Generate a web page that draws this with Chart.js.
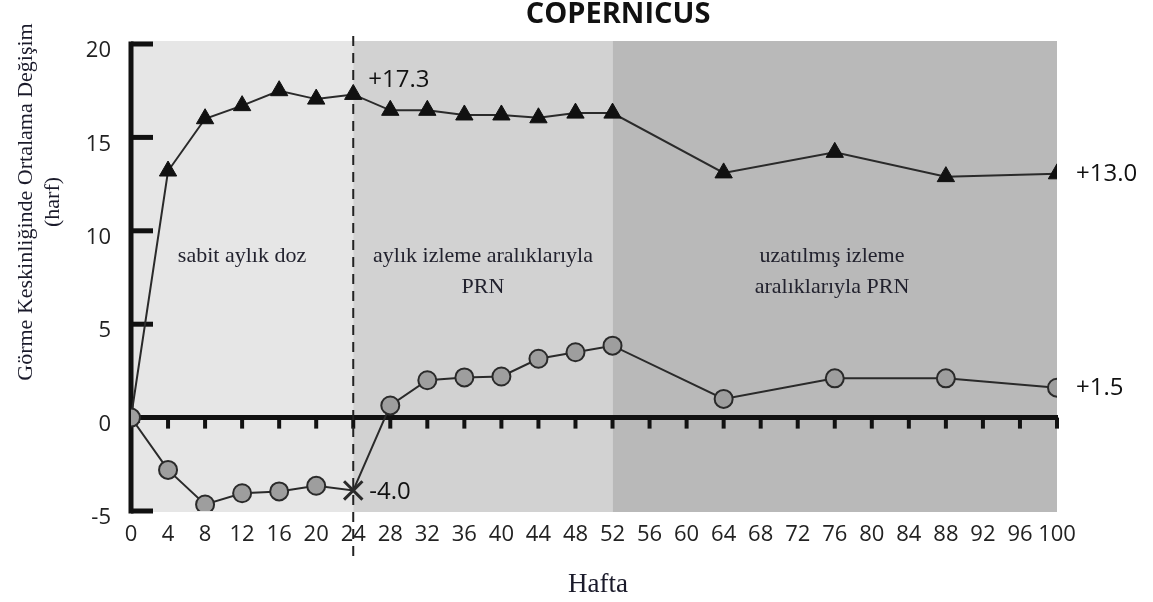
<!DOCTYPE html>
<html>
<head>
<meta charset="utf-8">
<script src="https://cdn.jsdelivr.net/npm/chart.js@4.4.1/dist/chart.umd.min.js"></script>
<style>
  html, body { margin: 0; padding: 0; background: #fff; }
  #wrap { width: 1153px; height: 602px; }
</style>
</head>
<body>
<div id="wrap"><canvas id="chart"></canvas></div>
<script>
// weeks and mean change in visual acuity (letters)
const weeksTri = [0, 4, 8, 12, 16, 20, 24, 28, 32, 36, 40, 44, 48, 52, 64, 76, 88, 100];
const triangleValues = [0, 13.2, 16.0, 16.7, 17.5, 17.05, 17.3, 16.45, 16.45, 16.2, 16.2, 16.05, 16.3, 16.3, 13.1, 14.2, 12.9, 13.05];

const weeksCirc = [0, 4, 8, 12, 16, 20, 24, 28, 32, 36, 40, 44, 48, 52, 64, 76, 88, 100];
const circleValues = [0, -2.8, -4.65, -4.05, -3.95, -3.65, -3.9, 0.65, 2.0, 2.15, 2.2, 3.15, 3.5, 3.85, 1.0, 2.1, 2.1, 1.6];

const xTicks = [0, 4, 8, 12, 16, 20, 24, 28, 32, 36, 40, 44, 48, 52, 56, 60, 64, 68, 72, 76, 80, 84, 88, 92, 96, 100];
const yTicks = [-5, 0, 5, 10, 15, 20];

// treatment phases: start week, end week, colour
const phaseStart = [0, 24, 52];
const phaseEnd = [24, 52, 100];
const phaseColors = ['#e6e6e6', '#d2d2d2', '#b9b9b9'];
const phaseLabels = [['sabit aylık doz'], ['aylık izleme aralıklarıyla', 'PRN'], ['uzatılmış izleme', 'aralıklarıyla PRN']];

const sansFont = '"Open Sans", "DejaVu Sans", sans-serif';
const serifFont = '"Liberation Serif", "DejaVu Serif", serif';

const decorations = {
    id: 'decorations',
    beforeDatasetsDraw(chart) {
        const ctx = chart.ctx;
        const x = chart.scales.x;
        const y = chart.scales.y;
        const top = y.getPixelForValue(20) - 3;
        const bottom = y.getPixelForValue(-5) + 1;

        ctx.save();
        for (let i = 0; i < phaseStart.length; i++) {
            const x0 = x.getPixelForValue(phaseStart[i]);
            const x1 = x.getPixelForValue(phaseEnd[i]);
            ctx.fillStyle = phaseColors[i];
            ctx.fillRect(x0, top, x1 - x0, bottom - top);
        }

        // y axis with inward ticks
        const ax = x.getPixelForValue(0);
        ctx.strokeStyle = '#111';
        ctx.lineWidth = 5;
        ctx.beginPath();
        ctx.moveTo(ax, y.getPixelForValue(20) - 2.5);
        ctx.lineTo(ax, y.getPixelForValue(-5) + 2.5);
        ctx.stroke();
        yTicks.forEach(v => {
            if (v === 0) return;
            const py = y.getPixelForValue(v);
            ctx.beginPath();
            ctx.moveTo(ax, py);
            ctx.lineTo(ax + 22, py);
            ctx.stroke();
        });

        // zero line with downward ticks
        const zy = y.getPixelForValue(0);
        ctx.beginPath();
        ctx.moveTo(ax, zy);
        ctx.lineTo(x.getPixelForValue(100) + 1, zy);
        ctx.stroke();
        ctx.lineWidth = 4;
        xTicks.forEach(v => {
            if (v === 0) return;
            const px = x.getPixelForValue(v);
            ctx.beginPath();
            ctx.moveTo(px, zy);
            ctx.lineTo(px, zy + 11);
            ctx.stroke();
        });

        // dashed line at week 24
        const dx = x.getPixelForValue(24);
        ctx.strokeStyle = '#222';
        ctx.lineWidth = 2;
        ctx.setLineDash([10, 7]);
        ctx.beginPath();
        ctx.moveTo(dx, 36);
        ctx.lineTo(dx, 562);
        ctx.stroke();
        ctx.restore();
    },
    afterDraw(chart) {
        const ctx = chart.ctx;
        const x = chart.scales.x;
        const y = chart.scales.y;
        ctx.save();

        // title
        ctx.fillStyle = '#111';
        ctx.textAlign = 'center';
        ctx.textBaseline = 'middle';
        ctx.font = 'bold 29px ' + sansFont;
        ctx.fillText('COPERNICUS', 618, 15);

        // phase labels
        ctx.font = '22px ' + serifFont;
        ctx.fillStyle = '#22222e';
        const phaseCenters = [242, 483, 832];
        phaseLabels.forEach((lines, i) => {
            lines.forEach((t, j) => ctx.fillText(t, phaseCenters[i], 256 + j * 31));
        });

        // end values
        ctx.font = '24px ' + sansFont;
        ctx.fillStyle = '#111';
        ctx.textAlign = 'left';
        ctx.fillText('+17.3', x.getPixelForValue(24) + 15, 80);
        ctx.fillText('+13.0', x.getPixelForValue(100) + 19, y.getPixelForValue(13.05));
        ctx.fillText('+1.5', x.getPixelForValue(100) + 19, y.getPixelForValue(1.55));
        ctx.fillText('-4.0', x.getPixelForValue(24) + 16, y.getPixelForValue(-4.0));

        // axis titles
        ctx.textAlign = 'center';
        ctx.fillStyle = '#1a1a2a';
        ctx.font = '27px ' + serifFont;
        ctx.fillText('Hafta', 598, 585);
        ctx.font = '22px ' + serifFont;
        ctx.translate(26, 202);
        ctx.rotate(-Math.PI / 2);
        ctx.fillText('Görme Keskinliğinde Ortalama Değişim', 0, 0);
        ctx.fillText('(harf)', 0, 27);
        ctx.restore();
    }
};

const triData = weeksTri.map((w, i) => ({ x: w, y: triangleValues[i] }));
const circData = weeksCirc.map((w, i) => ({ x: w, y: circleValues[i] }));

new Chart(document.getElementById('chart'), {
    type: 'line',
    data: {
        datasets: [
            {
                label: 'circles',
                data: circData,
                borderColor: '#2a2a2a',
                borderWidth: 2,
                backgroundColor: '#9e9e9e',
                pointBackgroundColor: weeksCirc.map(w => w === 24 ? 'rgba(0,0,0,0)' : '#9e9e9e'),
                pointBorderColor: '#2a2a2a',
                pointBorderWidth: weeksCirc.map(w => w === 24 ? 3 : 2),
                pointStyle: weeksCirc.map(w => w === 24 ? 'crossRot' : 'circle'),
                pointRadius: weeksCirc.map(w => w === 24 ? 13 : 9),
                tension: 0
            },
            {
                label: 'triangles',
                data: triData,
                borderColor: '#2a2a2a',
                borderWidth: 2,
                backgroundColor: '#111',
                pointBackgroundColor: '#111',
                pointBorderColor: '#111',
                pointBorderWidth: 1,
                pointStyle: 'triangle',
                pointRadius: 10,
                tension: 0
            }
        ]
    },
    options: {
        responsive: true,
        maintainAspectRatio: false,
        animation: false,
        layout: { padding: { left: 60, right: 96, top: 44, bottom: 51 } },
        plugins: {
            legend: { display: false },
            tooltip: { enabled: false },
            title: { display: false }
        },
        scales: {
            x: {
                type: 'linear',
                min: 0,
                max: 100,
                afterBuildTicks: scale => { scale.ticks = xTicks.map(v => ({ value: v })); },
                afterFit: scale => { scale.height = 40; },
                grid: { display: false, drawTicks: false },
                border: { display: false },
                ticks: {
                    autoSkip: false,
                    maxRotation: 0,
                    padding: 11,
                    color: '#222',
                    font: { family: sansFont, size: 22 }
                }
            },
            y: {
                min: -5,
                max: 20,
                afterBuildTicks: scale => { scale.ticks = yTicks.map(v => ({ value: v })); },
                afterFit: scale => { scale.width = 71; },
                grid: { display: false, drawTicks: false },
                border: { display: false },
                ticks: {
                    padding: 20,
                    labelOffset: 7,
                    color: '#222',
                    font: { family: sansFont, size: 22 }
                }
            }
        }
    },
    plugins: [decorations]
});
</script>
</body>
</html>
